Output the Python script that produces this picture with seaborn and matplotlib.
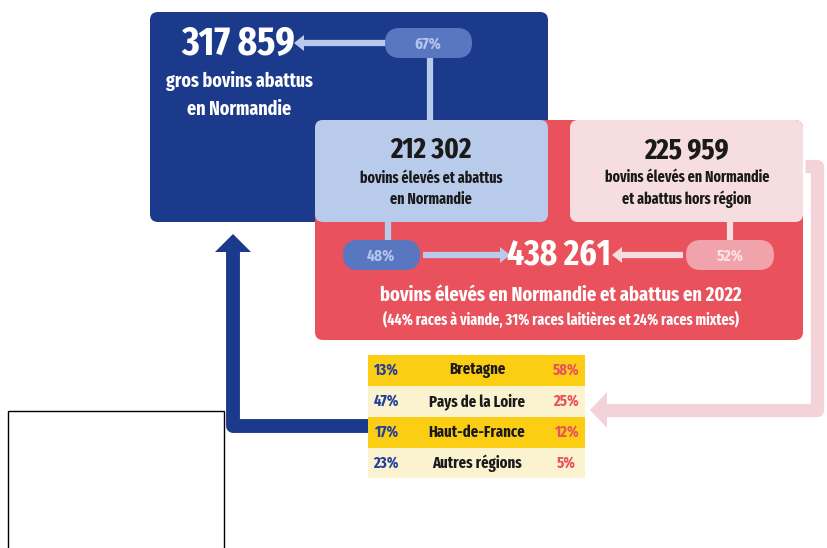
import numpy as np
import seaborn as sns
import matplotlib.pyplot as plt
from matplotlib.patches import FancyBboxPatch, Polygon, Rectangle

# chiffres du schéma
total_abattus = "317 859"
total_abattus_txt = ["gros bovins abattus", "en Normandie"]
eleves_abattus = "212 302"
eleves_abattus_txt = ["bovins élevés et abattus", "en Normandie"]
hors_region = "225 959"
hors_region_txt = ["bovins élevés en Normandie", "et abattus hors région"]
total_eleves = "438 261"
total_eleves_txt = "bovins élevés en Normandie et abattus en 2022"
races_txt = "(44% races à viande, 31% races laitières et 24% races mixtes)"
part_abattus = "67%"
part_eleves_abattus = "48%"
part_hors_region = "52%"

regions = ["Bretagne", "Pays de la Loire", "Haut-de-France", "Autres régions"]
pct_gauche = ["13%", "47%", "17%", "23%"]
pct_droite = ["58%", "25%", "12%", "5%"]

navy = "#1b3a8c"
bleu_clair = "#b9cbeb"
bleu_pill = "#5877c0"
rouge = "#e9525c"
rose = "#f6dde0"
rose_pill = "#f0a3ab"
rose_fleche = "#f3d3d9"
jaune = "#fbcd13"
creme = "#fbf2d0"
sombre = "#1a1a1a"

sns.set_theme(style="white")
plt.rcParams['font.family'] = ['Fira Sans Extra Condensed', 'Fira Sans Condensed',
                               'Roboto Condensed', 'Barlow Condensed', 'DejaVu Sans']

fig = plt.figure(figsize=(8.27, 5.48), dpi=100)
ax = fig.add_axes([0, 0, 1, 1])
ax.set_xlim(0, 827)
ax.set_ylim(548, 0)
ax.axis("off")


def boite(x0, y0, x1, y1, couleur, r=8, z=1):
    ax.add_patch(FancyBboxPatch((x0, y0), x1 - x0, y1 - y0,
                                boxstyle=f"round,pad=0,rounding_size={r}",
                                fc=couleur, ec="none", zorder=z))


def fleche(x0, x1, y, couleur, lw=4.5, tete=10, z=3):
    ax.plot([x0, x1], [y, y], color=couleur, lw=lw, solid_capstyle="butt", zorder=z)
    d = np.sign(x1 - x0)
    ax.add_patch(Polygon([[x1 + d * tete, y], [x1, y - tete * 0.8], [x1, y + tete * 0.8]],
                         closed=True, fc=couleur, ec="none", zorder=z))


def texte(x, y, s, couleur, taille):
    ax.text(x, y, s, color=couleur, fontsize=taille, ha="center", va="center",
            fontweight="bold", zorder=5)


# grandes boites
boite(150, 12, 548, 222, navy, z=1)
boite(315, 120, 803, 340, rouge, z=2)
boite(315, 120, 548, 222, bleu_clair, z=3)
boite(570, 120, 803, 222, rose, z=3)

# liaison 67 %
ax.plot([430, 430], [58, 120], color=bleu_clair, lw=4.5, zorder=2)
fleche(388, 304, 43, bleu_clair, z=2)
boite(385, 28, 472, 58, bleu_pill, r=15, z=4)
texte(428, 44, part_abattus, "#b4c5ec", 12)

texte(238, 44, total_abattus, "white", 29)
texte(239, 81, total_abattus_txt[0], "white", 14)
texte(239, 109, total_abattus_txt[1], "white", 14)

texte(431, 150, eleves_abattus, sombre, 21)
texte(431, 178, eleves_abattus_txt[0], sombre, 11)
texte(431, 199, eleves_abattus_txt[1], sombre, 11)

texte(687, 150, hors_region, sombre, 21)
texte(687, 177, hors_region_txt[0], sombre, 11)
texte(687, 199, hors_region_txt[1], sombre, 11)

# liaisons 48 % / 52 %
ax.plot([388, 388], [222, 242], color=bleu_clair, lw=4.5, zorder=3)
boite(343, 240, 420, 270, bleu_pill, r=15, z=4)
texte(381, 256, part_eleves_abattus, "#b4c5ec", 12)
fleche(423, 500, 255, bleu_clair, z=4)

ax.plot([730, 730], [222, 242], color=rose, lw=4.5, zorder=3)
boite(686, 240, 774, 270, rose_pill, r=15, z=4)
texte(730, 256, part_hors_region, "#fbe3e6", 12)
fleche(683, 622, 255, rose, z=4)

texte(559, 255, total_eleves, "white", 26)
texte(561, 295, total_eleves_txt, "white", 14.5)
texte(561, 320, races_txt, "white", 11)

# grosses flèches en L
ax.plot([805, 817, 817, 605], [166, 166, 410, 410], color=rose_fleche, lw=9.5,
        solid_joinstyle="round", solid_capstyle="butt", zorder=1)
ax.add_patch(Polygon([[590, 410], [607, 392], [607, 428]], closed=True,
                     fc=rose_fleche, ec="none", zorder=1))

ax.plot([368, 233, 233], [426, 426, 252], color=navy, lw=10,
        solid_joinstyle="round", solid_capstyle="butt", zorder=1)
ax.add_patch(Polygon([[233, 234], [215, 252], [251, 252]], closed=True,
                     fc=navy, ec="none", zorder=1))

# tableau des régions
haut_lignes = [355, 386, 417, 448, 478]
for i, reg in enumerate(regions):
    y0, y1 = haut_lignes[i], haut_lignes[i + 1]
    ax.add_patch(Rectangle((368, y0), 217, y1 - y0, fc=jaune if i % 2 == 0 else creme,
                           ec="none", zorder=2))
    yc = (y0 + y1) / 2
    texte(386, yc, pct_gauche[i], "#24409a", 11.5)
    texte(477, yc, reg, sombre, 11.5)
    texte(566, yc, pct_droite[i], rouge, 11.5)

# cadre noir en bas à gauche
ax.add_patch(Rectangle((8, 411), 216, 150, fc="white", ec="black", lw=1, zorder=6))

fig.savefig("out.png", dpi=100)
